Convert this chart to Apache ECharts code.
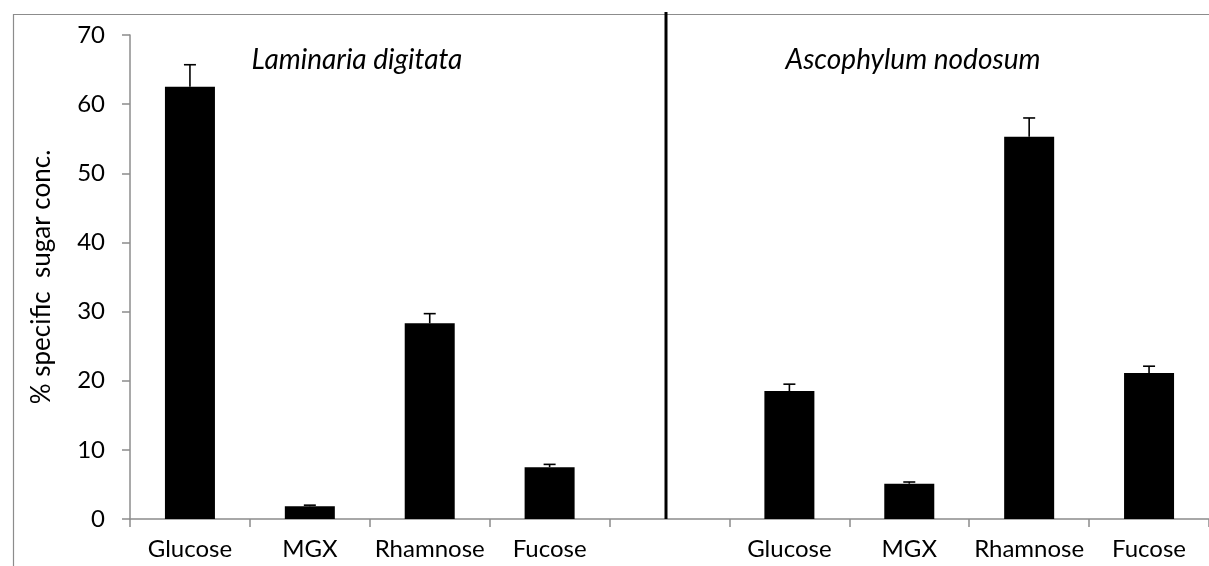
<!DOCTYPE html>
<html>
<head>
<meta charset="utf-8">
<style>
  html, body { margin: 0; padding: 0; background: #fff; }
  #chart { width: 1209px; height: 566px; }
</style>
<script src="https://cdn.jsdelivr.net/npm/echarts@6/dist/echarts.min.js"></script>
</head>
<body>
<div id="chart"></div>
<script>
// Sugar groups for the two seaweeds, separated by an empty slot
const categories = ['Glucose', 'MGX', 'Rhamnose', 'Fucose', '', 'Glucose', 'MGX', 'Rhamnose', 'Fucose'];
const meanValues = [62.5, 1.85, 28.3, 7.5, null, 18.5, 5.1, 55.3, 21.1];
const errorTops  = [65.7, 2.0, 29.7, 7.9, null, 19.5, 5.35, 58.0, 22.1];
const speciesNames = ['Laminaria digitata', 'Ascophylum nodosum'];
const yTicks = { min: 0, max: 70, interval: 10 };

const FONT = 'Lato, "Open Sans", sans-serif';
const AXIS_GREY = '#8c8c8c';

const chart = echarts.init(document.getElementById('chart'), null, { renderer: 'canvas' });

const errorData = categories.map((c, i) =>
  meanValues[i] == null ? [i, null, null] : [i, meanValues[i], errorTops[i]]);

chart.setOption({
  animation: false,
  backgroundColor: '#fff',
  grid: { left: 130, top: 35, width: 1091, bottom: 47, containLabel: false },
  xAxis: {
    type: 'category',
    data: categories,
    boundaryGap: true,
    axisLine: { lineStyle: { color: AXIS_GREY, width: 1.5 } },
    axisTick: { show: true, length: 8, lineStyle: { color: AXIS_GREY, width: 1.5 } },
    axisLabel: { interval: 0, color: '#000', fontFamily: FONT, fontSize: 24, margin: 18 },
    splitLine: { show: false }
  },
  yAxis: {
    type: 'value',
    min: yTicks.min, max: yTicks.max, interval: yTicks.interval,
    name: '% specific  sugar conc.',
    nameLocation: 'middle',
    nameGap: 75,
    nameTextStyle: { color: '#000', fontFamily: FONT, fontSize: 26 },
    axisLine: { show: true, lineStyle: { color: AXIS_GREY, width: 1.5 } },
    axisTick: { show: true, length: 8, lineStyle: { color: AXIS_GREY, width: 1.5 } },
    axisLabel: { color: '#000', fontFamily: FONT, fontSize: 24, margin: 25 },
    splitLine: { show: false }
  },
  series: [
    {
      type: 'bar',
      data: meanValues,
      barWidth: 50,
      itemStyle: { color: '#000' },
      z: 2
    },
    {
      type: 'custom',
      data: errorData,
      z: 3,
      renderItem: function (params, api) {
        if (api.value(1) == null || isNaN(api.value(1))) return null;
        const base = api.coord([api.value(0), api.value(1)]);
        const top = api.coord([api.value(0), api.value(2)]);
        const half = 6;
        const style = { stroke: '#000', lineWidth: 1.6 };
        return {
          type: 'group',
          children: [
            { type: 'line', shape: { x1: base[0], y1: base[1], x2: top[0], y2: top[1] }, style: style },
            { type: 'line', shape: { x1: top[0] - half, y1: top[1], x2: top[0] + half, y2: top[1] }, style: style }
          ]
        };
      }
    }
  ],
  graphic: [
    // chart frame
    { type: 'rect', left: 11, top: 12, shape: { width: 1240, height: 620 },
      style: { fill: 'none', stroke: '#8c8c8c', lineWidth: 1.2 }, silent: true, z: 0 },
    // divider between the two species
    { type: 'line', shape: { x1: 666, y1: 12, x2: 666, y2: 519 },
      style: { stroke: '#000', lineWidth: 3 }, z: 5 },
    { type: 'text', x: 357, y: 60,
      style: { text: speciesNames[0], fill: '#000', font: 'italic 28px ' + FONT, align: 'center', verticalAlign: 'middle' } },
    { type: 'text', x: 913, y: 60,
      style: { text: speciesNames[1], fill: '#000', font: 'italic 28px ' + FONT, align: 'center', verticalAlign: 'middle' } }
  ]
});
</script>
</body>
</html>
